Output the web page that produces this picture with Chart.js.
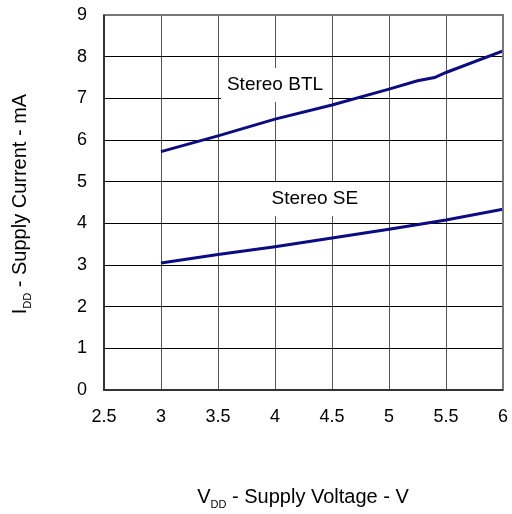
<!DOCTYPE html>
<html>
<head>
<meta charset="utf-8">
<script src="https://cdn.jsdelivr.net/npm/chart.js@4/dist/chart.umd.min.js"></script>
<style>
  html, body { margin: 0; padding: 0; background: #fff; }
  #wrap { width: 512px; height: 514px; }
</style>
</head>
<body>
<div id="wrap"><canvas id="lienzo" width="512" height="514"></canvas></div>
<script>
// Datos
const voltsBTL = [3, 3.5, 4, 4.5, 5, 5.25, 5.4, 5.5, 6];
const currentBTL = [5.72, 6.1, 6.5, 6.84, 7.22, 7.42, 7.5, 7.62, 8.14];
const voltsSE = [3, 3.5, 4, 4.5, 5, 5.5, 6];
const currentSE = [3.05, 3.25, 3.44, 3.65, 3.86, 4.08, 4.34];
const seriesNames = ['Stereo BTL', 'Stereo SE'];
// posición de las etiquetas (en unidades de datos)
const labelX = [4.0, 4.35];
const labelY = [7.32, 4.58];

const FONT = '"Liberation Sans", Arial, sans-serif';
const lineColor = '#0b0b82';

// Etiquetas con fondo blanco encima de la rejilla
const labelPlugin = {
  id: 'labels',
  afterDatasetsDraw(chart) {
    const c = chart.ctx;
    const xs = chart.scales.x, ys = chart.scales.y;
    c.save();
    c.font = '19px ' + FONT;
    c.textAlign = 'center';
    c.textBaseline = 'middle';
    for (let i = 0; i < seriesNames.length; i++) {
      const px = xs.getPixelForValue(labelX[i]);
      const py = ys.getPixelForValue(labelY[i]);
      const w = c.measureText(seriesNames[i]).width;
      c.fillStyle = '#fff';
      c.fillRect(px - w / 2 - 6, py - 17, w + 12, 34);
      c.fillStyle = '#000';
      c.fillText(seriesNames[i], px, py);
    }
    c.restore();
  }
};

// Títulos de los ejes con subíndice
function drawSubTitle(c, main, sub, rest, cx, cy) {
  c.font = '20px ' + FONT;
  const w1 = c.measureText(main).width;
  const w3 = c.measureText(rest).width;
  c.font = '11px ' + FONT;
  const w2 = c.measureText(sub).width;
  let x = cx - (w1 + w2 + w3) / 2;
  c.textBaseline = 'alphabetic';
  c.textAlign = 'left';
  c.font = '20px ' + FONT;
  c.fillText(main, x, cy);
  x += w1;
  c.font = '11px ' + FONT;
  c.fillText(sub, x, cy + 5);
  x += w2;
  c.font = '20px ' + FONT;
  c.fillText(rest, x, cy);
}

const frame = {
  id: 'frame',
  afterDraw(chart) {
    const c = chart.ctx;
    const a = chart.chartArea;
    c.save();
    c.lineWidth = 2;
    c.strokeStyle = '#777';
    c.strokeRect(a.left, a.top, a.right - a.left, a.bottom - a.top);
    c.strokeStyle = '#333';
    c.beginPath();
    c.moveTo(a.left, a.top);
    c.lineTo(a.left, a.bottom);
    c.lineTo(a.right, a.bottom);
    c.stroke();
    c.fillStyle = '#000';
    drawSubTitle(c, 'V', 'DD', ' - Supply Voltage - V', 303, 503);
    c.translate(26, 204);
    c.rotate(-Math.PI / 2);
    drawSubTitle(c, 'I', 'DD', ' - Supply Current - mA', 0, 0);
    c.restore();
  }
};

const ctx = document.getElementById('lienzo').getContext('2d');
const myChart = new Chart(ctx, {
  type: 'line',
  data: {
    datasets: [{
      label: seriesNames[0],
      data: voltsBTL.map((v, i) => ({ x: v, y: currentBTL[i] })),
      borderColor: lineColor,
      borderWidth: 3,
      pointRadius: 0,
      tension: 0
    }, {
      label: seriesNames[1],
      data: voltsSE.map((v, i) => ({ x: v, y: currentSE[i] })),
      borderColor: lineColor,
      borderWidth: 3,
      pointRadius: 0,
      tension: 0
    }]
  },
  options: {
    responsive: false,
    animation: false,
    layout: { padding: { top: 15, right: 9, left: 0, bottom: 0 } },
    plugins: { legend: { display: false }, tooltip: { enabled: false } },
    scales: {
      x: {
        type: 'linear',
        min: 2.5, max: 6,
        ticks: {
          stepSize: 0.5, color: '#000', font: { family: FONT, size: 18 }, padding: 16,
          callback: (v) => String(v)
        },
        grid: { color: '#555', lineWidth: 1, drawTicks: false },
        border: { display: false },
        afterFit(s) { s.height = 124; s.paddingLeft = 0; s.paddingRight = 0; }
      },
      y: {
        min: 0, max: 9,
        ticks: { stepSize: 1, color: '#000', font: { family: FONT, size: 18 }, padding: 17 },
        grid: { color: '#000', lineWidth: 1, drawTicks: false },
        border: { display: false },
        afterFit(s) { s.width = 104; s.paddingTop = 0; s.paddingBottom = 0; }
      }
    }
  },
  plugins: [labelPlugin, frame]
});
</script>
</body>
</html>
